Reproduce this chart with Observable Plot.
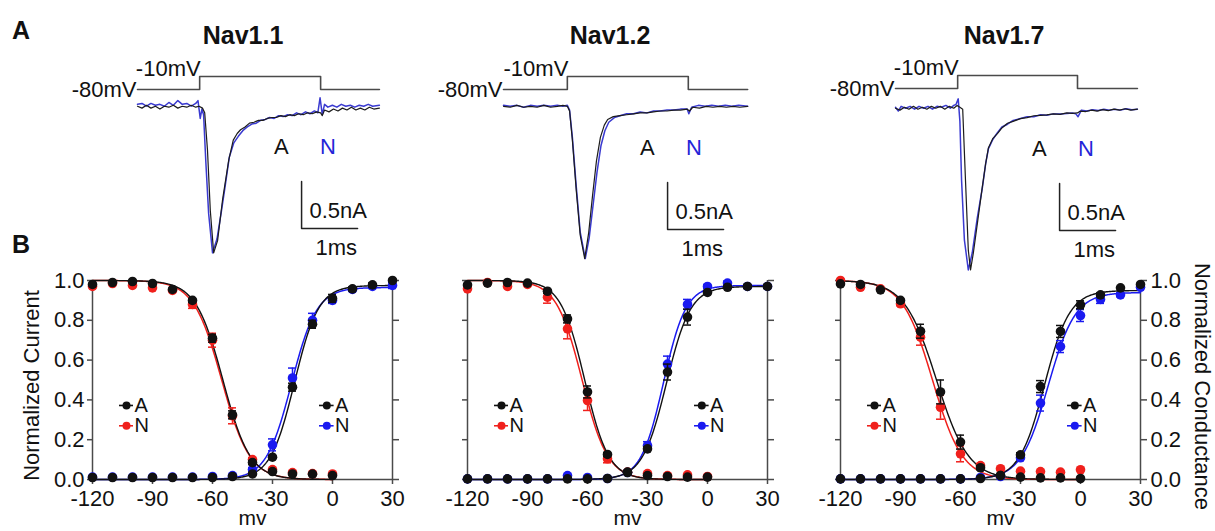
<!DOCTYPE html>
<html>
<head>
<meta charset="utf-8">
<script src="https://cdn.jsdelivr.net/npm/d3@7"></script>
<script src="https://cdn.jsdelivr.net/npm/@observablehq/plot@0.6"></script>
<style>
html, body { margin: 0; padding: 0; background: #fff; }
#fig { position: relative; width: 1215px; height: 531px; overflow: hidden; background: #fff; }
</style>
</head>
<body>
<div id="fig"></div>
<script>
// ---------------- DATA ----------------
const channels = ["Nav1.1", "Nav1.2", "Nav1.7"];
const vInact = [-120, -110, -100, -90, -80, -70, -60, -50, -40, -30, -20, -10, 0];
const vAct = [-120, -110, -100, -90, -80, -70, -60, -50, -40, -30, -20, -10, 0, 10, 20, 30];
const xTicks = [-120, -90, -60, -30, 0, 30];
const yTicks = [0, 0.2, 0.4, 0.6, 0.8, 1.0];

// Nav1.1
const inactA_11 = [0.98, 0.99, 0.995, 0.985, 0.955, 0.90, 0.71, 0.325, 0.085, 0.04, 0.028, 0.027, 0.02];
const inactN_11 = [0.97, 0.985, 0.975, 0.963, 0.95, 0.88, 0.70, 0.32, 0.10, 0.05, 0.035, 0.03, 0.028];
const actA_11 = [0.01, 0.01, 0.01, 0.01, 0.01, 0.01, 0.01, 0.015, 0.028, 0.112, 0.464, 0.78, 0.91, 0.958, 0.978, 1.0];
const actN_11 = [0.012, 0.012, 0.012, 0.012, 0.012, 0.012, 0.015, 0.02, 0.05, 0.174, 0.51, 0.80, 0.90, 0.955, 0.97, 0.975];
const errInactA_11 = [0, 0, 0, 0, 0, 0.01, 0.02, 0.02, 0.01, 0, 0, 0, 0];
const errInactN_11 = [0, 0, 0, 0, 0, 0.02, 0.035, 0.04, 0.01, 0, 0, 0, 0];
const errActA_11 = [0, 0, 0, 0, 0, 0, 0, 0, 0, 0.01, 0.02, 0.02, 0.02, 0.01, 0.01, 0];
const errActN_11 = [0, 0, 0, 0, 0, 0, 0, 0, 0.01, 0.03, 0.05, 0.035, 0.015, 0.01, 0.01, 0.015];
const fit_11 = {inactA: [-54.8, 6.8], inactN: [-55.4, 7.0], actA: [0.975, -19, 6], actN: [0.965, -20.5, 6.3]};

// Nav1.2
const inactA_12 = [0.978, 0.987, 0.99, 0.987, 0.946, 0.807, 0.44, 0.126, 0.037, 0.02, 0.015, 0.012, 0.012];
const inactN_12 = [0.958, 0.99, 0.97, 0.98, 0.916, 0.757, 0.397, 0.104, 0.037, 0.03, 0.02, 0.023, 0.015];
const actA_12 = [0.003, 0.003, 0.003, 0.003, 0.003, 0.003, 0.003, 0.005, 0.035, 0.154, 0.54, 0.816, 0.94, 0.966, 0.97, 0.97];
const actN_12 = [0.003, 0.003, 0.003, 0.003, 0.003, 0.02, 0.01, 0.005, 0.035, 0.17, 0.58, 0.88, 0.97, 0.987, 0.97, 0.97];
const errInactA_12 = [0, 0, 0, 0, 0.01, 0.02, 0.03, 0.01, 0, 0, 0, 0, 0];
const errInactN_12 = [0, 0, 0, 0, 0.03, 0.05, 0.05, 0.02, 0, 0, 0, 0, 0];
const errActA_12 = [0, 0, 0, 0, 0, 0, 0, 0, 0, 0.01, 0.04, 0.04, 0.01, 0, 0.01, 0.01];
const errActN_12 = [0, 0, 0, 0, 0, 0, 0, 0, 0, 0.02, 0.04, 0.025, 0.01, 0.01, 0, 0];
const fit_12 = {inactA: [-61.4, 6.0], inactN: [-62.7, 6.4], actA: [0.97, -20.5, 6], actN: [0.975, -22, 5.6]};

// Nav1.7
const inactA_17 = [0.983, 0.98, 0.953, 0.90, 0.745, 0.44, 0.188, 0.059, 0.02, 0.012, 0.008, 0.008, 0.005];
const inactN_17 = [1.0, 0.966, 0.958, 0.883, 0.715, 0.363, 0.129, 0.07, 0.054, 0.042, 0.04, 0.037, 0.049];
const actA_17 = [0.003, 0.003, 0.003, 0.003, 0.003, 0.003, 0.003, 0.005, 0.02, 0.124, 0.467, 0.744, 0.878, 0.928, 0.963, 0.98];
const actN_17 = [0.003, 0.003, 0.003, 0.003, 0.003, 0.003, 0.003, 0.01, 0.015, 0.109, 0.384, 0.668, 0.824, 0.905, 0.928, 0.966];
const errInactA_17 = [0, 0, 0, 0.01, 0.035, 0.06, 0.035, 0.01, 0, 0, 0, 0, 0];
const errInactN_17 = [0, 0, 0, 0.01, 0.04, 0.06, 0.04, 0.01, 0, 0, 0, 0, 0];
const errActA_17 = [0, 0, 0, 0, 0, 0, 0, 0, 0, 0.01, 0.03, 0.03, 0.02, 0.01, 0, 0];
const errActN_17 = [0, 0, 0, 0, 0, 0, 0, 0, 0, 0.01, 0.04, 0.03, 0.03, 0.02, 0.01, 0];
const fit_17 = {inactA: [-72, 8.0], inactN: [-74, 7.5], actA: [0.95, -18, 6.3], actN: [0.94, -16.2, 6.8]};

// Voltage protocol (ms, mV)
const protoMv = [-80, -80, -10, -10, -80, -80];
const protoT_11 = [0, 1.11, 1.11, 3.27, 3.27, 4.32];
const protoT_12 = [0, 1.14, 1.14, 3.30, 3.30, 4.36];
const protoT_17 = [0, 1.11, 1.11, 3.25, 3.25, 4.32];

// Current traces [ms, nA]
const trace11A = [[0.00,-0.01],[0.08,-0.03],[0.16,0.00],[0.24,-0.03],[0.32,-0.01],[0.40,-0.04],[0.48,-0.01],[0.56,-0.02],[0.64,0.00],[0.72,-0.03],[0.80,-0.01],[0.88,-0.02],[0.96,0.00],[1.04,-0.02],[1.10,-0.01],[1.16,-0.03],[1.20,-0.08],[1.25,-0.48],[1.30,-1.12],[1.36,-1.57],[1.43,-1.44],[1.52,-1.00],[1.63,-0.58],[1.71,-0.37],[1.78,-0.30],[1.84,-0.26],[1.92,-0.23],[2.00,-0.19],[2.08,-0.18],[2.16,-0.16],[2.24,-0.16],[2.32,-0.14],[2.40,-0.13],[2.48,-0.13],[2.56,-0.11],[2.64,-0.12],[2.72,-0.10],[2.80,-0.11],[2.88,-0.09],[2.96,-0.10],[3.04,-0.08],[3.12,-0.09],[3.20,-0.07],[3.27,-0.08],[3.30,-0.11],[3.34,-0.05],[3.42,-0.07],[3.50,-0.04],[3.58,-0.06],[3.66,-0.03],[3.74,-0.05],[3.82,-0.02],[3.90,-0.05],[3.98,-0.03],[4.06,-0.05],[4.14,-0.02],[4.22,-0.04],[4.32,-0.03]];
const trace11N = [[0.00,0.01],[0.08,0.02],[0.16,-0.01],[0.24,0.02],[0.32,0.00],[0.40,0.01],[0.48,-0.01],[0.56,0.03],[0.64,0.00],[0.72,0.05],[0.80,0.01],[0.88,0.02],[0.96,-0.01],[1.04,0.02],[1.08,0.05],[1.12,-0.14],[1.15,-0.04],[1.18,-0.10],[1.22,-0.60],[1.27,-1.15],[1.34,-1.57],[1.42,-1.42],[1.50,-1.12],[1.56,-0.88],[1.64,-0.55],[1.72,-0.40],[1.80,-0.33],[1.88,-0.27],[1.96,-0.23],[2.04,-0.20],[2.12,-0.19],[2.20,-0.16],[2.28,-0.15],[2.36,-0.13],[2.44,-0.14],[2.52,-0.11],[2.60,-0.12],[2.68,-0.10],[2.76,-0.11],[2.84,-0.08],[2.92,-0.10],[3.00,-0.07],[3.08,-0.09],[3.16,-0.06],[3.22,-0.08],[3.26,0.08],[3.30,-0.10],[3.34,0.01],[3.40,-0.02],[3.48,0.00],[3.56,-0.02],[3.64,0.01],[3.72,-0.01],[3.80,0.00],[3.88,-0.02],[3.96,0.00],[4.04,-0.01],[4.12,0.01],[4.20,-0.01],[4.32,0.00]];
const trace12A = [[0.00,0.00],[0.12,-0.01],[0.24,0.01],[0.36,-0.01],[0.48,0.00],[0.60,-0.01],[0.72,0.01],[0.84,-0.01],[0.96,0.00],[1.06,0.01],[1.14,0.00],[1.18,-0.05],[1.23,-0.36],[1.30,-0.90],[1.37,-1.37],[1.45,-1.62],[1.52,-1.35],[1.59,-0.95],[1.66,-0.58],[1.73,-0.33],[1.80,-0.20],[1.86,-0.14],[1.96,-0.11],[2.08,-0.10],[2.20,-0.09],[2.32,-0.08],[2.44,-0.07],[2.56,-0.07],[2.68,-0.06],[2.80,-0.05],[2.92,-0.05],[3.04,-0.04],[3.16,-0.04],[3.28,-0.03],[3.32,-0.05],[3.38,-0.01],[3.50,-0.02],[3.62,0.00],[3.74,-0.01],[3.86,0.00],[3.98,-0.01],[4.10,0.00],[4.22,-0.01],[4.36,0.00]];
const trace12N = [[0.00,0.01],[0.12,0.00],[0.24,0.01],[0.36,-0.01],[0.48,0.01],[0.60,0.00],[0.72,0.01],[0.84,0.00],[0.96,0.01],[1.06,0.00],[1.14,0.01],[1.18,-0.04],[1.23,-0.33],[1.30,-0.86],[1.37,-1.34],[1.46,-1.62],[1.53,-1.40],[1.60,-1.05],[1.67,-0.70],[1.74,-0.42],[1.81,-0.26],[1.88,-0.17],[1.98,-0.12],[2.08,-0.10],[2.20,-0.08],[2.32,-0.08],[2.44,-0.06],[2.56,-0.07],[2.68,-0.05],[2.80,-0.05],[2.92,-0.04],[3.04,-0.04],[3.16,-0.03],[3.28,-0.03],[3.31,-0.08],[3.36,-0.01],[3.48,0.01],[3.60,0.00],[3.72,0.01],[3.84,0.00],[3.96,0.01],[4.08,0.00],[4.20,0.01],[4.36,0.00]];
const trace17A = [[0.00,-0.01],[0.08,-0.03],[0.16,0.00],[0.24,-0.02],[0.32,0.01],[0.40,-0.02],[0.48,0.00],[0.56,-0.02],[0.64,0.01],[0.72,-0.01],[0.80,0.01],[0.88,-0.02],[0.96,0.01],[1.04,-0.01],[1.10,0.02],[1.15,0.00],[1.20,-0.02],[1.25,-0.78],[1.30,-1.52],[1.34,-1.73],[1.39,-1.55],[1.47,-1.20],[1.55,-0.85],[1.61,-0.60],[1.66,-0.43],[1.74,-0.33],[1.82,-0.28],[1.90,-0.22],[2.00,-0.17],[2.10,-0.15],[2.23,-0.12],[2.35,-0.11],[2.47,-0.09],[2.59,-0.085],[2.70,-0.08],[2.82,-0.07],[2.94,-0.075],[3.06,-0.06],[3.16,-0.065],[3.25,-0.06],[3.30,-0.04],[3.40,-0.045],[3.50,-0.03],[3.60,-0.04],[3.70,-0.025],[3.80,-0.035],[3.90,-0.02],[4.00,-0.03],[4.10,-0.015],[4.20,-0.03],[4.32,-0.02]];
const trace17N = [[0.00,0.00],[0.05,-0.04],[0.10,0.01],[0.18,-0.01],[0.26,0.01],[0.34,-0.02],[0.42,0.01],[0.50,-0.01],[0.58,0.01],[0.66,-0.02],[0.74,0.01],[0.82,0.00],[0.90,0.02],[0.98,-0.01],[1.04,0.02],[1.08,0.03],[1.12,0.09],[1.15,-0.15],[1.18,-0.78],[1.23,-1.41],[1.30,-1.73],[1.37,-1.55],[1.46,-1.18],[1.55,-0.86],[1.61,-0.60],[1.66,-0.44],[1.74,-0.34],[1.82,-0.27],[1.90,-0.21],[2.00,-0.18],[2.10,-0.14],[2.23,-0.12],[2.35,-0.10],[2.47,-0.10],[2.59,-0.08],[2.70,-0.085],[2.82,-0.07],[2.94,-0.07],[3.06,-0.065],[3.16,-0.06],[3.22,-0.07],[3.26,-0.10],[3.32,-0.03],[3.42,-0.04],[3.52,-0.025],[3.62,-0.035],[3.72,-0.02],[3.82,-0.03],[3.92,-0.02],[4.02,-0.03],[4.12,-0.015],[4.22,-0.025],[4.32,-0.02]];

// scale bar sizes
const scaleBarNA = 0.5;
const scaleBarMs = 1;

// ---------------- STYLE / LAYOUT ----------------
const FONT = "'Liberation Sans', Arial, Helvetica, sans-serif";
const AX = "#4a4a4a";
const colA = "#111111", colRed = "#f0201c", colBlue = "#1a1af0";
const traceBlack = "#1c1c1c", traceBlue = "#3a3ad0";
const layout = [
  {x0: 137, base: 105, vTop: 76, bLeft: 92, title: 243},
  {x0: 503, base: 106, vTop: 76, bLeft: 467, title: 610},
  {x0: 895, base: 107, vTop: 75, bLeft: 840, title: 1004}
];
const PXMS = 56, PXNA = 94;

const ivSets = [
  {iA: inactA_11, iN: inactN_11, aA: actA_11, aN: actN_11, eiA: errInactA_11, eiN: errInactN_11, eaA: errActA_11, eaN: errActN_11, fit: fit_11},
  {iA: inactA_12, iN: inactN_12, aA: actA_12, aN: actN_12, eiA: errInactA_12, eiN: errInactN_12, eaA: errActA_12, eaN: errActN_12, fit: fit_12},
  {iA: inactA_17, iN: inactN_17, aA: actA_17, aN: actN_17, eiA: errInactA_17, eiN: errInactN_17, eaA: errActA_17, eaN: errActN_17, fit: fit_17}
];
const traces = [[trace11A, trace11N], [trace12A, trace12N], [trace17A, trace17N]];
const protos = [protoT_11, protoT_12, protoT_17];

const fig = document.getElementById("fig");
const svgStyle = {fontFamily: FONT, fontSize: "22px", overflow: "visible", background: "transparent", maxWidth: "none", color: "#111"};
function place(el, left, top) {
  el.style.position = "absolute";
  el.style.left = left + "px";
  el.style.top = top + "px";
  fig.appendChild(el);
}
function htmlLabel(text, x, y, css) {
  const d = document.createElement("div");
  d.textContent = text;
  d.style.cssText = `position:absolute;left:${x}px;top:${y}px;transform:translate(-50%,-50%);white-space:nowrap;line-height:1;font-family:${FONT};color:#111;${css}`;
  fig.appendChild(d);
}

// ---------------- PANEL A ----------------
htmlLabel("A", 21, 30, "font-size:25px;font-weight:bold;");
htmlLabel("B", 21, 244, "font-size:25px;font-weight:bold;");

channels.forEach((name, i) => {
  const L = layout[i];
  htmlLabel(name, L.title, 35, "font-size:25px;font-weight:bold;");

  // voltage protocol
  const proto = protos[i].map((t, j) => ({t, mv: protoMv[j]}));
  const vLabels = [
    {t: proto[0].t, mv: -80, s: "-80mV"},
    {t: proto[1].t, mv: -10, s: "-10mV"}
  ];
  const vp = Plot.plot({
    width: 80 + 4.5 * PXMS + 10, height: 30 + 13 + 10,
    marginLeft: 80, marginRight: 10, marginTop: 30, marginBottom: 10,
    x: {domain: [0, 4.5], axis: null}, y: {domain: [-80, -10], axis: null},
    style: svgStyle,
    marks: [
      Plot.line(proto, {x: "t", y: "mv", stroke: "#4a4a4a", strokeWidth: 1.6}),
      Plot.text(vLabels.slice(0, 1), {x: "t", y: "mv", text: "s", textAnchor: "end", dx: -1, fontSize: 22, fill: "#111"}),
      Plot.text(vLabels.slice(1), {x: "t", y: "mv", text: "s", textAnchor: "end", dy: -8, dx: 1, fontSize: 22, fill: "#111"})
    ]
  });
  place(vp, L.x0 - 80, L.vTop - 30);

  // current traces
  const sbT = 2.93, sbI = -0.81;
  const scaleBar = [
    {t: sbT, I: sbI}, {t: sbT, I: sbI - scaleBarNA}, {t: sbT + scaleBarMs, I: sbI - scaleBarNA}
  ];
  const cp = Plot.plot({
    width: 10 + 4.5 * PXMS + 10, height: 10 + 2.1 * PXNA + 10,
    marginLeft: 10, marginRight: 10, marginTop: 10, marginBottom: 10,
    x: {domain: [0, 4.5], axis: null}, y: {domain: [-1.9, 0.2], axis: null},
    style: svgStyle,
    marks: [
      Plot.line(traces[i][1], {x: d => d[0], y: d => d[1], stroke: traceBlue, strokeWidth: 1.5}),
      Plot.line(traces[i][0], {x: d => d[0], y: d => d[1], stroke: traceBlack, strokeWidth: 1.2}),
      Plot.line(scaleBar, {x: "t", y: "I", stroke: "#222", strokeWidth: 1.5}),
      Plot.text([{t: sbT + 0.14, I: sbI - 0.31, s: scaleBarNA + "nA"}], {x: "t", y: "I", text: "s", textAnchor: "start", fontSize: 22, fill: "#111"}),
      Plot.text([{t: sbT + scaleBarMs * 0.62, I: sbI - 0.71, s: scaleBarMs + "ms"}], {x: "t", y: "I", text: "s", fontSize: 22, fill: "#111"}),
      Plot.text([{t: 2.57, I: -0.44, s: "A"}], {x: "t", y: "I", text: "s", fontSize: 22, fill: "#111"}),
      Plot.text([{t: 3.40, I: -0.44, s: "N"}], {x: "t", y: "I", text: "s", fontSize: 22, fill: "#2424d8"})
    ]
  });
  place(cp, L.x0 - 10, L.base - 0.2 * PXNA - 10);
});

// ---------------- PANEL B ----------------
const boltzInact = (V, [vh, k]) => 1 / (1 + Math.exp((V - vh) / k));
const boltzAct = (V, [g, vh, k]) => g / (1 + Math.exp((vh - V) / k));

function series(vs, ys, es) { return vs.map((v, j) => ({v, y: ys[j], e: es[j]})); }
function errMarks(rows, color) {
  const r = rows.filter(d => d.e > 0);
  return [
    Plot.ruleX(r, {x: "v", y1: d => d.y - d.e, y2: d => d.y + d.e, stroke: color, strokeWidth: 1.5}),
    Plot.ruleY(r, {y: d => d.y + d.e, x1: d => d.v - 2, x2: d => d.v + 2, stroke: color, strokeWidth: 1.5}),
    Plot.ruleY(r, {y: d => d.y - d.e, x1: d => d.v - 2, x2: d => d.v + 2, stroke: color, strokeWidth: 1.5})
  ];
}

ivSets.forEach((S, i) => {
  const L = layout[i];
  const mL = i === 0 ? 70 : 40, mR = i === 2 ? 75 : 40;
  const iA = series(vInact, S.iA, S.eiA), iN = series(vInact, S.iN, S.eiN);
  const aA = series(vAct, S.aA, S.eaA), aN = series(vAct, S.aN, S.eaN);
  const vFineI = d3.range(-120, 0.01, 0.5), vFineA = d3.range(-120, 30.01, 0.5);
  const fiA = vFineI.map(v => ({v, y: boltzInact(v, S.fit.inactA)}));
  const fiN = vFineI.map(v => ({v, y: boltzInact(v, S.fit.inactN)}));
  const faA = vFineA.map(v => ({v, y: boltzAct(v, S.fit.actA)}));
  const faN = vFineA.map(v => ({v, y: boltzAct(v, S.fit.actN)}));
  const legL = [{x1: -106.5, x2: -99.5, y: 0.372, s: "A", c: colA}, {x1: -106.5, x2: -99.5, y: 0.27, s: "N", c: colRed}];
  const legR = [{x1: -6.5, x2: 0.8, y: 0.372, s: "A", c: colA}, {x1: -6.5, x2: 0.8, y: 0.27, s: "N", c: colBlue}];
  const leg = legL.concat(legR);

  const marks = [
    Plot.ruleY([0], {x1: -120, x2: 30, stroke: AX, strokeWidth: 1.5}),
    Plot.ruleX([-120, 30], {y1: 0, y2: 1, stroke: AX, strokeWidth: 1.5}),
    Plot.axisX({ticks: xTicks, tickFormat: d => String(d), tickSize: 5, tickPadding: 6, fontSize: 22, stroke: AX, strokeWidth: 1.5, fill: "#111", label: null}),
    Plot.axisY({anchor: "left", ticks: yTicks, tickFormat: i === 0 ? d3.format(".1f") : () => "", tickSize: 5, tickPadding: 3, fontSize: 22, stroke: AX, strokeWidth: 1.5, fill: "#111", label: null}),
    Plot.axisY({anchor: "right", ticks: yTicks, tickFormat: i === 2 ? d3.format(".1f") : () => "", tickSize: 6, tickPadding: 4, fontSize: 22, stroke: AX, strokeWidth: 1.5, fill: "#111", label: null}),
    Plot.line(fiN, {x: "v", y: "y", stroke: colRed, strokeWidth: 1.5}),
    Plot.line(faN, {x: "v", y: "y", stroke: colBlue, strokeWidth: 1.5}),
    Plot.line(fiA, {x: "v", y: "y", stroke: colA, strokeWidth: 1.4}),
    Plot.line(faA, {x: "v", y: "y", stroke: colA, strokeWidth: 1.4}),
    ...errMarks(iN, colRed),
    ...errMarks(aN, colBlue),
    Plot.dot(iN, {x: "v", y: "y", r: 4.8, fill: colRed}),
    Plot.dot(aN, {x: "v", y: "y", r: 4.8, fill: colBlue}),
    ...errMarks(iA, colA),
    ...errMarks(aA, colA),
    Plot.dot(iA, {x: "v", y: "y", r: 4.8, fill: colA}),
    Plot.dot(aA, {x: "v", y: "y", r: 4.8, fill: colA}),
    // legends
    Plot.ruleY(leg, {y: "y", x1: "x1", x2: "x2", stroke: "c", strokeWidth: 1.6}),
    Plot.dot(leg, {x: d => (d.x1 + d.x2) / 2, y: "y", r: 4, fill: "c"}),
    Plot.text(leg, {x: "x2", y: "y", text: "s", textAnchor: "start", dx: 1, fontSize: 20, fill: "#111"}),
    Plot.text(["mv"], {text: d => d, frameAnchor: "bottom", textAnchor: "middle", dy: 45, dx: 10, fontSize: 21, fill: "#111"})
  ];
  if (i === 0) marks.push(Plot.text(["Normalized Current"], {text: d => d, frameAnchor: "left", textAnchor: "middle", rotate: -90, dx: -61, dy: 5.5, fontSize: 22, fill: "#111"}));
  if (i === 2) marks.push(Plot.text(["Normalized Conductance"], {text: d => d, frameAnchor: "right", textAnchor: "middle", rotate: 90, dx: 62, dy: 6.5, fontSize: 22, fill: "#111"}));

  const p = Plot.plot({
    width: mL + 300 + mR, height: 20 + 199 + 52,
    marginLeft: mL, marginRight: mR, marginTop: 20, marginBottom: 52,
    x: {domain: [-120, 30]}, y: {domain: [0, 1]},
    style: svgStyle,
    marks
  });
  place(p, L.bLeft - mL, 260);
});
</script>
</body>
</html>
